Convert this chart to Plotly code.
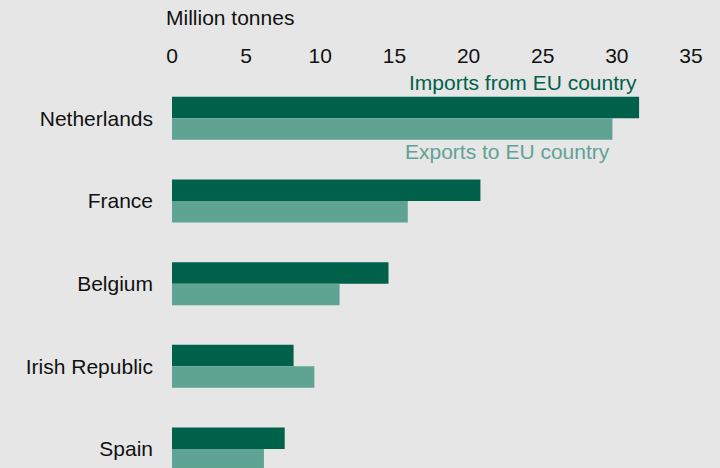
import plotly.graph_objects as go

countries = ["Netherlands", "France", "Belgium", "Irish Republic", "Spain"]
imports_from_eu = [31.5, 20.8, 14.6, 8.2, 7.6]
exports_to_eu = [29.7, 15.9, 11.3, 9.6, 6.2]
x_ticks = [0, 5, 10, 15, 20, 25, 30, 35]

DARK = "#00614a"
LIGHT = "#5fa393"
BG = "#e6e6e6"
TXT = "#111111"
FONT = "Liberation Sans, Arial, sans-serif"
FS = 21

fig = go.Figure()
fig.add_trace(go.Bar(y=countries, x=imports_from_eu, orientation="h",
                     marker=dict(color=DARK, line=dict(width=0)), name="Imports from EU country"))
fig.add_trace(go.Bar(y=countries, x=exports_to_eu, orientation="h",
                     marker=dict(color=LIGHT, line=dict(width=0)), name="Exports to EU country"))

fig.update_layout(
    width=720, height=468,
    margin=dict(l=172, r=29, t=77, b=0),
    paper_bgcolor=BG, plot_bgcolor=BG,
    barmode="group", bargap=0.48, bargroupgap=0,
    showlegend=False,
    font=dict(family=FONT, color=TXT, size=FS),
    xaxis=dict(side="top", range=[0, 35], tickvals=x_ticks, showgrid=False,
               zeroline=False, showline=False, ticks="", ticklabelstandoff=9,
               tickfont=dict(size=FS, color=TXT)),
    yaxis=dict(range=[4.23, -0.5], showgrid=False, zeroline=False, showline=False,
               ticks="", ticklabelstandoff=18, tickfont=dict(size=FS, color=TXT)),
    annotations=[
        dict(text="Million tonnes", xref="paper", yref="paper", x=-0.015, y=1.151,
             xanchor="left", yanchor="middle", showarrow=False,
             font=dict(size=FS, color=TXT, family=FONT)),
        dict(text="Imports from EU country", xref="x", yref="y", x=imports_from_eu[0],
             y=0, yshift=36, xanchor="right", yanchor="middle", showarrow=False,
             font=dict(size=FS, color=DARK, family=FONT)),
        dict(text="Exports to EU country", xref="x", yref="y", x=exports_to_eu[0],
             y=0, yshift=-33, xanchor="right", yanchor="middle", showarrow=False,
             font=dict(size=FS, color=LIGHT, family=FONT)),
    ],
)

fig.write_html("out.html", config={"displayModeBar": False},
               post_script="document.body.style.margin='0';")
